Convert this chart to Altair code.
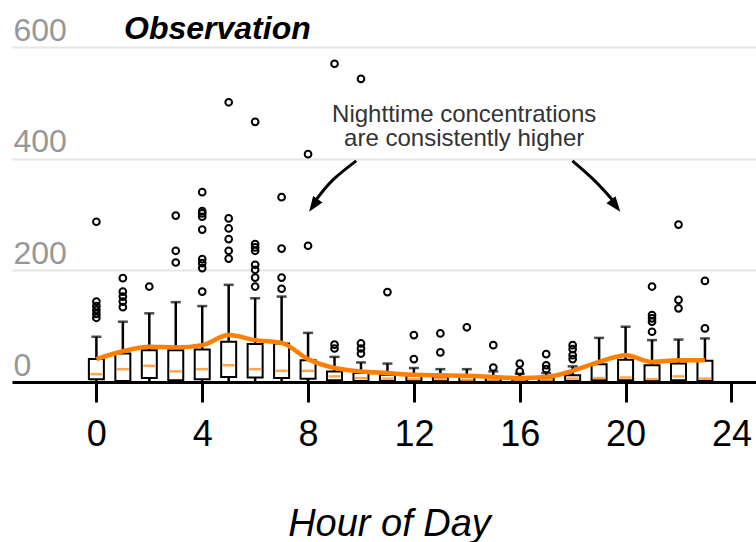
import altair as alt
import pandas as pd

# ---- data ----
hours = list(range(24))
q1 = [5, 2, 7, 3, 5, 9, 8, 7, 6, 3, 2, 2, 2, 2, 1, 1, 1, 1, 2, 3, 3, 2, 3, 2]
q3 = [41, 51, 57, 57, 58, 72, 68, 69, 39, 19, 16, 13, 11, 10, 9, 8, 7, 8, 12, 32, 40, 30, 33, 38]
medians = [14, 23, 29, 19, 23, 30, 23, 20, 20, 10, 7, 6, 5, 5, 4, 4, 3, 4, 6, 7, 8, 5, 10, 6]
whisker_hi = [81, 108, 123, 143, 136, 174, 150, 153, 88, 45, 35, 33, 25, 23, 23, 19, 15, 16, 28, 79, 99, 75, 76, 78]
means = [41, 55, 63, 62, 66, 84, 75, 70, 41, 25, 19, 16, 13, 12, 11, 9, 7, 9, 20, 36, 48, 36, 39, 39]

outlier_hours = (
    [0] * 6 + [1] * 5 + [2] + [3] * 3 + [4] * 9 + [5] * 6 + [6] * 8 + [7] * 4 + [8] * 2
    + [9] * 3 + [10] * 4 + [11] + [12] * 2 + [13] * 2 + [14] + [15] * 2 + [16] * 2
    + [17] * 3 + [18] * 4 + [21] * 5 + [22] * 3 + [23] * 2
)
outlier_values = (
    [287, 144, 136, 129, 122, 115]
    + [186, 162, 153, 144, 134]
    + [171]
    + [298, 235, 214]
    + [340, 306, 302, 296, 273, 220, 213, 204, 162]
    + [501, 293, 275, 256, 235, 221]
    + [466, 247, 241, 235, 210, 201, 187, 171]
    + [331, 239, 187, 167]
    + [408, 244]
    + [570, 67, 60]
    + [543, 69, 60, 51]
    + [161]
    + [84, 41]
    + [87, 53]
    + [98]
    + [66, 26]
    + [33, 19]
    + [50, 30, 23]
    + [66, 59, 48, 41]
    + [171, 120, 114, 108, 90]
    + [282, 147, 132]
    + [181, 96]
)

annotation_lines = ["Nighttime concentrations", "are consistently higher"]
annotation_hour = [13.9]
annotation_value = [466]

arrow_id = ["L", "L", "L", "R", "R", "R"]
arrow_hour = [9.82, 8.94, 8.33, 17.99, 18.80, 19.49]
arrow_value = [396, 362, 328, 396, 362, 327]
head_hour = [8.04, 19.80]
head_value = [305, 305]
head_angle = [215, 142]

x_ticks = [0, 4, 8, 12, 16, 20, 24]
y_ticks = [0, 200, 400, 600]

ORANGE = "#ff7f00"
FONT = "Liberation Sans"

# ---- tables ----
stats = pd.DataFrame({"hour": hours, "q1": q1, "q3": q3, "median": medians,
                      "whi": whisker_hi, "mean": means, "zero": [0] * 24})
outl = pd.DataFrame({"hour": outlier_hours, "value": outlier_values})
arrows = pd.DataFrame({"id": arrow_id, "hour": arrow_hour, "value": arrow_value})
heads = pd.DataFrame({"hour": head_hour, "value": head_value, "angle": head_angle})
ann = pd.DataFrame({"hour": annotation_hour, "value": annotation_value})

xscale = alt.Scale(domain=[-3.0, 24.74], nice=False, zero=False)
yscale = alt.Scale(domain=[0, 600], nice=False)

x_axis = alt.Axis(values=x_ticks, grid=False, domainColor="black", domainWidth=3,
                  tickColor="black", tickWidth=3, tickSize=20, labelFontSize=36,
                  labelColor="black", labelPadding=43, labelBaseline="alphabetic",
                  labelFlush=False, title="Hour of Day", titleFontSize=38,
                  titleFontStyle="italic", titleFontWeight="normal", titleColor="black",
                  titleY=153, titleX=377, titleBaseline="alphabetic", zindex=1)
y_axis = alt.Axis(values=y_ticks, grid=True, gridColor="#e6e6e6", gridWidth=2,
                  domain=False, ticks=False, tickSize=0, labelAlign="left",
                  labelBaseline="alphabetic", labelPadding=-1, labelOffset=-7,
                  labelFontSize=32, labelColor="#979797", labelFlush=False, title=None)

base = alt.Chart(stats)
X = alt.X("hour:Q", scale=xscale, axis=x_axis)

lower = base.mark_rule(color="black", strokeWidth=2.5).encode(
    x=X, y=alt.Y("zero:Q", scale=yscale, axis=y_axis), y2="q1:Q")
upper = base.mark_rule(color="black", strokeWidth=2.5).encode(
    x="hour:Q", y="q3:Q", y2="whi:Q")
caps = base.mark_tick(orient="horizontal", size=10, thickness=2.5, color="black").encode(
    x="hour:Q", y="whi:Q")
boxes = base.mark_bar(size=15, fill="white", stroke="black", strokeWidth=2).encode(
    x="hour:Q", y="q1:Q", y2="q3:Q")
med = base.mark_tick(orient="horizontal", size=12, thickness=2.5, color=ORANGE).encode(
    x="hour:Q", y="median:Q")
pts = alt.Chart(outl).mark_point(shape="circle", filled=False, size=45, strokeWidth=2,
                                 color="black", opacity=1).encode(x="hour:Q", y="value:Q")
mean_line = base.mark_line(color=ORANGE, strokeWidth=4.5, interpolate="monotone").encode(
    x="hour:Q", y="mean:Q")
ann_text = alt.Chart(ann).mark_text(text=annotation_lines, align="center", baseline="alphabetic",
                                    fontSize=24, lineHeight=24, color="#333333", font=FONT).encode(
    x="hour:Q", y="value:Q")
arrow_lines = alt.Chart(arrows).mark_line(color="black", strokeWidth=3, interpolate="natural").encode(
    x="hour:Q", y="value:Q", detail="id:N")
arrow_heads = alt.Chart(heads).mark_point(shape="M0,0 L-0.6,1.6 L0.6,1.6 Z", filled=True, size=360,
                                          color="black", opacity=1).encode(
    x="hour:Q", y="value:Q", angle=alt.Angle("angle:Q", scale=None))

chart = alt.layer(lower, upper, caps, boxes, med, pts, mean_line, ann_text, arrow_lines, arrow_heads).properties(
    width=744, height=335,
    padding={"left": 12, "top": 47, "right": 0, "bottom": 160},
    autosize=alt.AutoSizeParams(type="none"),
    title=alt.TitleParams("Observation", anchor="start", fontSize=32, fontWeight="bold",
                          fontStyle="italic", color="black", dx=112, dy=68, offset=11,
                          baseline="alphabetic", frame="group", font=FONT),
).configure(font=FONT, background="white").configure_view(stroke=None)

chart.save("out.html", embed_options={"renderer": "svg", "actions": False})
